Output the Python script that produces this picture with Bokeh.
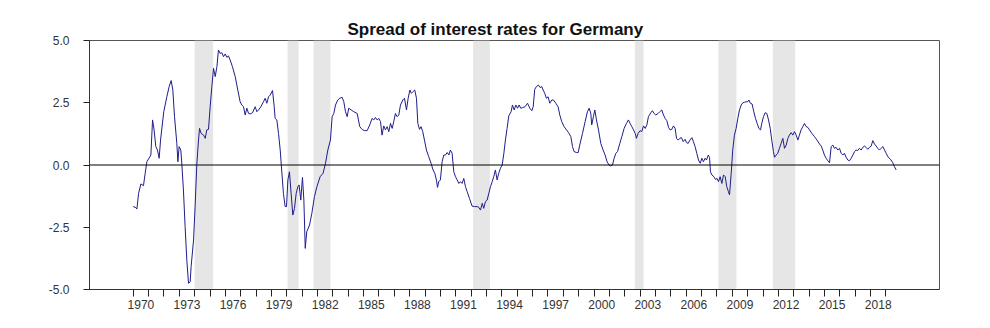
from bokeh.plotting import figure
from bokeh.models import Range1d, FixedTicker, NumeralTickFormatter, CustomJSTickFormatter, Span, ColumnDataSource
from bokeh.embed import file_html
from bokeh.resources import INLINE

# ---- data (decimal year, spread in percentage points) ----
dates = [
    1970.00, 1970.17, 1970.24, 1970.35, 1970.50, 1970.67, 1970.78, 1970.89, 1971.15, 1971.26,
    1971.36, 1971.47, 1971.58, 1971.69, 1971.78, 1971.99, 1972.19, 1972.34, 1972.47, 1972.58,
    1972.69, 1972.84, 1972.91, 1972.99, 1973.10, 1973.17, 1973.27, 1973.38, 1973.49, 1973.60,
    1973.71, 1973.77, 1973.93, 1974.03, 1974.14, 1974.25, 1974.32, 1974.42, 1974.58, 1974.69,
    1974.79, 1974.90, 1975.01, 1975.12, 1975.23, 1975.34, 1975.45, 1975.55, 1975.66, 1975.77,
    1975.88, 1975.99, 1976.10, 1976.20, 1976.31, 1976.46, 1976.64, 1976.81, 1976.96, 1977.07,
    1977.18, 1977.29, 1977.40, 1977.51, 1977.61, 1977.77, 1977.94, 1978.05, 1978.16, 1978.31,
    1978.48, 1978.59, 1978.70, 1978.81, 1978.92, 1979.07, 1979.18, 1979.24, 1979.35, 1979.46,
    1979.57, 1979.68, 1979.78, 1979.89, 1979.98, 1980.07, 1980.17, 1980.28, 1980.39, 1980.50,
    1980.61, 1980.72, 1980.80, 1980.91, 1981.02, 1981.11, 1981.20, 1981.30, 1981.48, 1981.63,
    1981.80, 1981.96, 1982.17, 1982.36, 1982.52, 1982.67, 1982.84, 1982.95, 1983.06, 1983.17,
    1983.32, 1983.45, 1983.60, 1983.71, 1983.82, 1983.93, 1984.03, 1984.19, 1984.36, 1984.58,
    1984.75, 1984.90, 1985.05, 1985.23, 1985.40, 1985.55, 1985.66, 1985.77, 1985.88, 1985.99,
    1986.10, 1986.20, 1986.31, 1986.42, 1986.53, 1986.64, 1986.75, 1986.86, 1986.96, 1987.07,
    1987.18, 1987.29, 1987.40, 1987.55, 1987.66, 1987.79, 1987.90, 1988.01, 1988.11, 1988.22,
    1988.33, 1988.44, 1988.53, 1988.64, 1988.74, 1988.85, 1988.96, 1989.09, 1989.24, 1989.39,
    1989.52, 1989.63, 1989.74, 1989.81, 1989.89, 1990.00, 1990.11, 1990.22, 1990.33, 1990.44,
    1990.55, 1990.65, 1990.76, 1990.87, 1990.98, 1991.09, 1991.20, 1991.30, 1991.41, 1991.52,
    1991.63, 1991.74, 1991.89, 1992.06, 1992.22, 1992.39, 1992.50, 1992.61, 1992.72, 1992.82,
    1992.93, 1993.04, 1993.15, 1993.26, 1993.37, 1993.47, 1993.58, 1993.69, 1993.80, 1993.91,
    1994.02, 1994.13, 1994.23, 1994.34, 1994.45, 1994.60, 1994.69, 1994.80, 1994.91, 1995.02,
    1995.12, 1995.23, 1995.34, 1995.51, 1995.67, 1995.82, 1995.95, 1996.04, 1996.14, 1996.25,
    1996.38, 1996.49, 1996.60, 1996.69, 1996.79, 1996.90, 1997.01, 1997.12, 1997.25, 1997.36,
    1997.51, 1997.66, 1997.77, 1997.90, 1998.05, 1998.21, 1998.34, 1998.49, 1998.60, 1998.70,
    1998.86, 1998.97, 1999.07, 1999.25, 1999.42, 1999.57, 1999.68, 1999.79, 1999.85, 1999.96,
    2000.05, 2000.16, 2000.29, 2000.44, 2000.59, 2000.72, 2000.85, 2000.98, 2001.09, 2001.20,
    2001.31, 2001.42, 2001.53, 2001.68, 2001.81, 2001.96, 2002.11, 2002.24, 2002.35, 2002.46,
    2002.57, 2002.68, 2002.76, 2002.87, 2003.00, 2003.11, 2003.22, 2003.33, 2003.44, 2003.54,
    2003.70, 2003.80, 2003.91, 2004.02, 2004.17, 2004.28, 2004.41, 2004.52, 2004.63, 2004.74,
    2004.85, 2004.95, 2005.06, 2005.17, 2005.28, 2005.37, 2005.48, 2005.58, 2005.69, 2005.80,
    2005.93, 2006.02, 2006.13, 2006.24, 2006.37, 2006.47, 2006.58, 2006.69, 2006.80, 2006.91,
    2007.02, 2007.12, 2007.23, 2007.32, 2007.44, 2007.52, 2007.58, 2007.67, 2007.80, 2007.91,
    2008.01, 2008.10, 2008.21, 2008.32, 2008.43, 2008.54, 2008.64, 2008.75, 2008.82, 2008.93,
    2009.03, 2009.14, 2009.25, 2009.36, 2009.47, 2009.58, 2009.69, 2009.79, 2009.90, 2010.01,
    2010.08, 2010.18, 2010.29, 2010.40, 2010.51, 2010.62, 2010.73, 2010.84, 2010.92, 2011.03,
    2011.14, 2011.25, 2011.36, 2011.47, 2011.57, 2011.68, 2011.75, 2011.86, 2011.96, 2012.07,
    2012.18, 2012.29, 2012.40, 2012.51, 2012.62, 2012.72, 2012.83, 2012.94, 2013.05, 2013.16,
    2013.27, 2013.37, 2013.48, 2013.59, 2013.70, 2013.81, 2013.92, 2014.03, 2014.18, 2014.35,
    2014.52, 2014.68, 2014.79, 2014.89, 2015.00, 2015.11, 2015.22, 2015.33, 2015.44, 2015.55,
    2015.65, 2015.76, 2015.87, 2015.98, 2016.09, 2016.20, 2016.30, 2016.41, 2016.52, 2016.63,
    2016.74, 2016.85, 2016.96, 2017.06, 2017.17, 2017.28, 2017.39, 2017.50, 2017.61, 2017.71,
    2017.82, 2017.93, 2018.04, 2018.15, 2018.26, 2018.37, 2018.47, 2018.58, 2018.69, 2018.80,
    2018.91, 2019.02, 2019.13, 2019.30, 2019.45, 2019.56, 2019.67,
]
spread = [
    -1.67, -1.71, -1.77, -1.14, -0.76, -0.83, -0.33, 0.13, 0.40, 1.81,
    1.41, 0.74, 0.60, 0.27, 1.00, 2.14, 2.74, 3.15, 3.39, 3.01,
    1.94, 0.87, 0.13, 0.74, 0.60, 0.00, -1.00, -2.48, -3.82, -4.75,
    -4.69, -4.08, -3.01, -1.67, 0.00, 1.00, 1.47, 1.27, 1.20, 1.07,
    1.41, 1.43, 2.34, 3.15, 3.88, 3.55, 3.95, 4.62, 4.48, 4.51,
    4.35, 4.46, 4.32, 4.38, 4.22, 3.95, 3.55, 3.01, 2.54, 2.41,
    2.34, 2.01, 2.28, 2.07, 2.05, 2.10, 2.34, 2.14, 2.21, 2.34,
    2.54, 2.68, 2.48, 2.74, 2.81, 2.99, 2.34, 1.87, 1.81, 1.27,
    0.60, -0.33, -1.14, -1.67, -1.67, -0.60, -0.27, -1.14, -2.01, -1.74,
    -1.14, -0.87, -0.80, -1.41, -0.50, -1.41, -3.35, -2.68, -2.41, -1.94,
    -1.27, -0.87, -0.47, -0.33, 0.07, 0.60, 1.00, 1.94, 2.07, 2.41,
    2.61, 2.68, 2.72, 2.54, 2.14, 1.94, 2.28, 2.21, 2.14, 2.07,
    1.54, 1.43, 1.38, 1.38, 1.61, 1.87, 1.81, 1.91, 1.81, 1.87,
    1.74, 1.20, 1.57, 1.41, 1.54, 1.34, 1.67, 1.47, 1.74, 2.07,
    1.94, 2.01, 2.41, 2.61, 2.68, 2.21, 2.68, 3.01, 2.88, 2.95,
    3.01, 2.68, 1.67, 1.43, 1.54, 1.34, 1.00, 0.60, 0.33, 0.07,
    -0.20, -0.33, -0.60, -0.90, -0.67, -0.60, 0.13, 0.40, 0.40, 0.50,
    0.40, 0.60, 0.47, -0.27, -0.47, -0.60, -0.74, -0.67, -0.74, -0.54,
    -0.87, -1.07, -1.34, -1.65, -1.67, -1.67, -1.70, -1.81, -1.54, -1.74,
    -1.47, -1.41, -1.14, -0.87, -0.67, -0.47, -0.20, -0.60, -0.33, -0.13,
    0.00, 0.47, 1.00, 1.47, 1.97, 2.14, 2.41, 2.21, 2.41, 2.28,
    2.41, 2.28, 2.30, 2.34, 2.48, 2.28, 2.18, 2.34, 3.04, 3.15,
    3.21, 3.11, 3.15, 3.01, 2.88, 2.68, 2.74, 2.48, 2.61, 2.61,
    2.48, 2.34, 2.01, 1.74, 1.54, 1.41, 1.30, 1.14, 0.74, 0.54,
    0.50, 0.50, 0.80, 1.27, 1.74, 2.14, 2.28, 2.07, 1.61, 1.94,
    2.21, 1.81, 1.41, 0.87, 0.60, 0.40, 0.13, 0.00, -0.04, 0.00,
    0.27, 0.47, 0.54, 0.87, 1.14, 1.47, 1.67, 1.81, 1.67, 1.54,
    1.41, 1.27, 1.07, 1.27, 1.38, 1.34, 1.57, 1.47, 1.61, 1.94,
    2.10, 2.18, 2.07, 2.01, 2.07, 2.14, 2.21, 2.01, 1.87, 1.78,
    1.51, 1.41, 1.43, 1.57, 1.47, 1.07, 1.00, 1.07, 1.10, 0.94,
    1.03, 0.90, 0.87, 1.00, 1.10, 0.94, 0.74, 0.47, 0.20, 0.07,
    0.27, 0.13, 0.27, 0.20, 0.40, 0.30, -0.27, -0.40, -0.47, -0.58,
    -0.54, -0.67, -0.47, -0.74, -0.40, -0.47, -0.87, -1.07, -1.20, -0.33,
    0.60, 1.20, 1.47, 1.87, 2.21, 2.41, 2.50, 2.52, 2.54, 2.54,
    2.61, 2.48, 2.45, 2.14, 1.87, 1.67, 1.47, 1.41, 1.67, 1.94,
    2.10, 2.07, 1.81, 1.47, 1.00, 0.54, 0.31, 0.40, 0.47, 0.67,
    0.87, 1.07, 0.67, 0.80, 1.07, 1.20, 1.30, 1.20, 1.34, 1.20,
    1.00, 1.20, 1.41, 1.54, 1.67, 1.54, 1.51, 1.41, 1.27, 1.14,
    1.00, 0.84, 0.76, 0.60, 0.40, 0.27, 0.17, 0.09, 0.74, 0.80,
    0.67, 0.71, 0.60, 0.67, 0.47, 0.40, 0.47, 0.31, 0.20, 0.17,
    0.27, 0.40, 0.54, 0.60, 0.58, 0.67, 0.60, 0.71, 0.76, 0.71,
    0.63, 0.71, 0.76, 0.98, 0.84, 0.76, 0.67, 0.60, 0.67, 0.74,
    0.60, 0.47, 0.33, 0.23, 0.09, -0.07, -0.20,
]

# shaded recession periods
rec_start = [1974.0, 1980.05, 1981.74, 1992.13, 2002.66, 2008.10, 2011.64]
rec_end = [1975.2, 1980.77, 1982.84, 1993.22, 2003.22, 2009.27, 2013.10]

# axis ticks
year_ticks = list(range(1970, 2020))
label_years = list(range(1970, 2019, 3))
y_ticks = [-5.0, -2.5, 0.0, 2.5, 5.0]

FONT = "Liberation Sans"

p = figure(
    width=990, height=328,
    x_range=Range1d(1967.155, 2022.49),
    y_range=Range1d(-5.0, 5.0),
    output_backend="svg", toolbar_location=None,
    min_border_left=89, min_border_right=51, min_border_top=40, min_border_bottom=39,
)
p.background_fill_color = "white"
p.border_fill_color = "white"
p.outline_line_color = "#555555"
p.outline_line_width = 1
p.xgrid.visible = False
p.ygrid.visible = False

# title
p.title.text = "Spread of interest rates for Germany"
p.title.align = "left"
p.title.offset = 258
p.title.text_font = FONT
p.title.text_font_style = "bold"
p.title.text_font_size = "17px"
p.title.text_color = "#111111"
p.title.standoff = 4

# recession bands
band_src = ColumnDataSource(dict(left=rec_start, right=rec_end,
                                  bottom=[-5.0] * len(rec_start), top=[5.0] * len(rec_start)))
p.quad(left="left", right="right", bottom="bottom", top="top", source=band_src,
       fill_color="#e6e6e6", line_color=None)

# zero line
p.add_layout(Span(location=0, dimension="width", line_color="black", line_width=1))

# series
p.line(dates, spread, line_color="#1e1e8c", line_width=1)

# x axis: year boundary ticks (minor), labels centered mid-year (major, no tick marks)
xa = p.xaxis[0]
xa.ticker = FixedTicker(ticks=[y + 0.5 for y in label_years], minor_ticks=year_ticks)
xa.formatter = CustomJSTickFormatter(code="return Math.floor(tick).toString();")
xa.major_tick_line_color = None
xa.major_tick_out = 0
xa.major_tick_in = 0
xa.minor_tick_line_color = "#222222"
xa.minor_tick_out = 7
xa.minor_tick_in = 0
xa.axis_line_color = "#333333"
xa.major_label_standoff = 3
xa.major_label_text_font = FONT
xa.major_label_text_font_size = "12px"
xa.major_label_text_color = "#333333"

ya = p.yaxis[0]
ya.ticker = FixedTicker(ticks=y_ticks)
ya.formatter = NumeralTickFormatter(format="0.0")
ya.major_tick_out = 6
ya.major_tick_in = 0
ya.major_tick_line_color = "#222222"
ya.minor_tick_line_color = None
ya.axis_line_color = "#333333"
ya.major_label_standoff = 14
ya.major_label_text_font = FONT
ya.major_label_text_font_size = "12px"
ya.major_label_text_color = "#333333"

open("out.html", "w").write(file_html(p, INLINE))
